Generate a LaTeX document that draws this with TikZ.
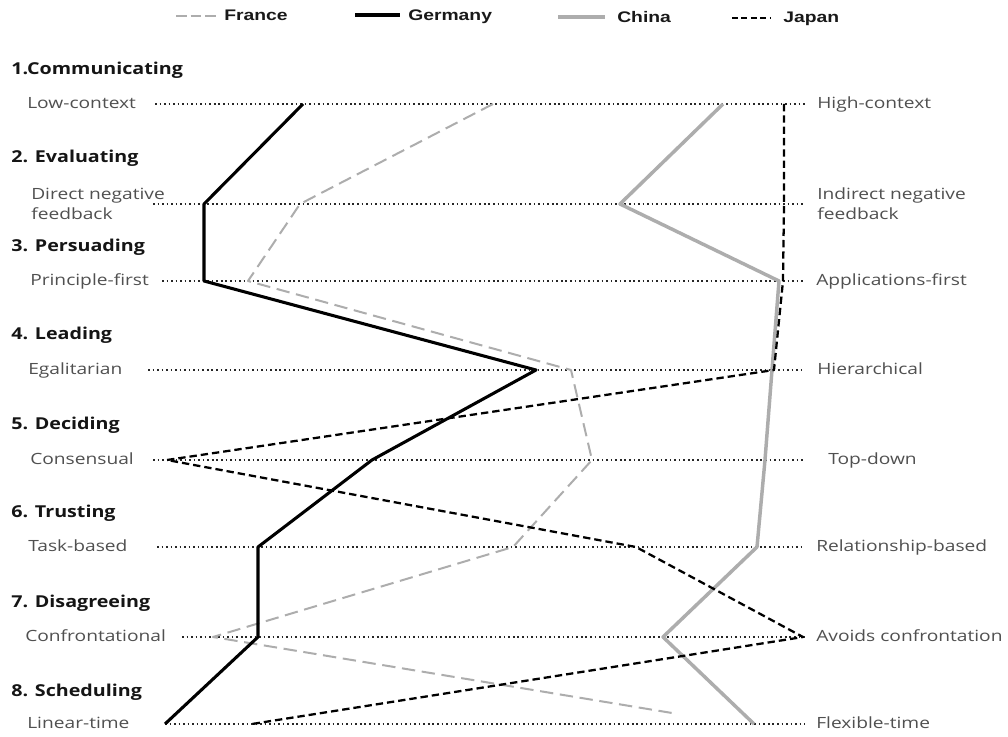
\documentclass[tikz,border=0pt]{standalone}
\usepackage{fontspec}
\newfontfamily\lblfont[FakeStretch=1.24]{Open Sans}
\newfontfamily\headfont[FakeStretch=1.2]{Open Sans}
\newfontfamily\legfont[FakeStretch=1.26]{Liberation Sans}
\definecolor{lbltext}{HTML}{505050}
\definecolor{headtext}{HTML}{151515}
\definecolor{lightline}{HTML}{ADADAD}
\tikzset{
  lblbase/.style={font=\lblfont\fontsize{11.6}{14.8}\selectfont, text=lbltext, inner sep=0pt, anchor=west, align=left},
  lbl/.style={lblbase, text height=1.8ex, text depth=0.1ex},
  head/.style={font=\headfont\bfseries\fontsize{12.3}{14}\selectfont, text=headtext, inner sep=0pt, anchor=west, text height=1.8ex, text depth=0.1ex},
  leg/.style={font=\legfont\bfseries\fontsize{11.5}{14}\selectfont, text=black!90, inner sep=0pt, anchor=base west},
  axisline/.style={line width=1.3pt, dash pattern=on 1.2pt off 2.2pt, black!85},
  france/.style={lightline, line width=1.5pt, dash pattern=on 10pt off 5pt, line join=round},
  germany/.style={black, line width=2.3pt, line join=round},
  china/.style={lightline, line width=2.6pt, line join=round},
  japan/.style={black, line width=1.7pt, dash pattern=on 5.5pt off 3pt, line join=round},
}
\begin{document}
\begin{tikzpicture}[x=0.75pt,y=-0.75pt]
\useasboundingbox (0,0) rectangle (1008,737);
\fill[white] (0,0) rectangle (1008,737);

% legend
\coordinate (lf1) at (176,16); \coordinate (lf2) at (218,16);
\coordinate (lg1) at (355,15); \coordinate (lg2) at (400,15);
\coordinate (lc1) at (558,17); \coordinate (lc2) at (605,17);
\coordinate (lj1) at (732,18); \coordinate (lj2) at (771,18);
\draw[lightline, line width=1.6pt, dash pattern=on 8pt off 3pt] (lf1) -- (lf2);
\draw[germany] (lg1) -- (lg2);
\draw[china] (lc1) -- (lc2);
\draw[black, line width=1.7pt, dash pattern=on 4.5pt off 2.6pt] (lj1) -- (lj2);
\node[leg] (legF) at (224,21) {France};
\node[leg] (legG) at (408,21) {Germany};
\node[leg] (legC) at (617,22.5) {China};
\node[leg] (legJ) at (783,23) {Japan};

% headings
\node[head] (h1) at (11,70) {1.Communicating};
\node[head] (h2) at (11,158) {2. Evaluating};
\node[head] (h3) at (11,247) {3. Persuading};
\node[head] (h4) at (11,335) {4. Leading};
\node[head] (h5) at (11,425) {5. Deciding};
\node[head] (h6) at (11,513) {6. Trusting};
\node[head] (h7) at (11,603) {7. Disagreeing};
\node[head] (h8) at (11,692) {8. Scheduling};

% left labels
\node[lbl] (l1) at (27,104) {Low-context};
\node[lblbase] (l2) at (31,204) {Direct negative\\feedback};
\node[lbl] (l3) at (30,281) {Principle-first};
\node[lbl] (l4) at (28,370) {Egalitarian};
\node[lbl] (l5) at (30,460) {Consensual};
\node[lbl] (l6) at (28,547) {Task-based};
\node[lbl] (l7) at (25,637) {Confrontational};
\node[lbl] (l8) at (27,724) {Linear-time};

% right labels
\node[lbl] (r1) at (817,104) {High-context};
\node[lblbase] (r2) at (817,204) {Indirect negative\\feedback};
\node[lbl] (r3) at (816,281) {Applications-first};
\node[lbl] (r4) at (817,370) {Hierarchical};
\node[lbl] (r5) at (828,460) {Top-down};
\node[lbl] (r6) at (816,547) {Relationship-based};
\node[lbl] (r7) at (816,637) {Avoids confrontation};
\node[lbl] (r8) at (816,724) {Flexible-time};

% axis lines
\coordinate (a1) at (155,104); \coordinate (b1) at (805,104);
\coordinate (a2) at (153,204); \coordinate (b2) at (805,204);
\coordinate (a3) at (162,281); \coordinate (b3) at (805,281);
\coordinate (a4) at (148,370); \coordinate (b4) at (805,370);
\coordinate (a5) at (153,460); \coordinate (b5) at (805,460);
\coordinate (a6) at (157,547); \coordinate (b6) at (805,547);
\coordinate (a7) at (182,637); \coordinate (b7) at (805,637);
\coordinate (a8) at (165,724); \coordinate (b8) at (805,724);
\foreach \i in {1,...,8} {\draw[axisline] (a\i) -- (b\i);}

% France
\coordinate (f1) at (493,104);
\coordinate (f2) at (300,204);
\coordinate (f3) at (248,281);
\coordinate (f4) at (571,370);
\coordinate (f5) at (592,460);
\coordinate (f6) at (513,547);
\coordinate (f7) at (213,637);
\coordinate (f8) at (672,713);
\draw[france] (f1) -- (f2) -- (f3) -- (f4) -- (f5) -- (f6) -- (f7) -- (f8);

% China
\coordinate (c1) at (723,104);
\coordinate (c2) at (620,204);
\coordinate (c3) at (779,281);
\coordinate (c4) at (772,370);
\coordinate (c5) at (765,460);
\coordinate (c6) at (757,547);
\coordinate (c7) at (663,637);
\coordinate (c8) at (754,724);
\draw[china] (c1) -- (c2) -- (c3) -- (c4) -- (c5) -- (c6) -- (c7) -- (c8);

% Germany
\coordinate (g1) at (303,104);
\coordinate (g2) at (204,204);
\coordinate (g3) at (204,281);
\coordinate (g4) at (536,370);
\coordinate (g5) at (372,460);
\coordinate (g6) at (258,547);
\coordinate (g7) at (258,637);
\coordinate (g8) at (165,724);
\draw[germany] (g1) -- (g2) -- (g3) -- (g4) -- (g5) -- (g6) -- (g7) -- (g8);

% Japan
\coordinate (j1) at (784,104);
\coordinate (j2) at (784,204);
\coordinate (j3) at (783,281);
\coordinate (j4) at (774,370);
\coordinate (j5) at (167,460);
\coordinate (j6) at (636,547);
\coordinate (j7) at (803,637);
\coordinate (j8) at (252,724);
\draw[japan] (j1) -- (j2) -- (j3) -- (j4) -- (j5) -- (j6) -- (j7) -- (j8);
\end{tikzpicture}
\end{document}
